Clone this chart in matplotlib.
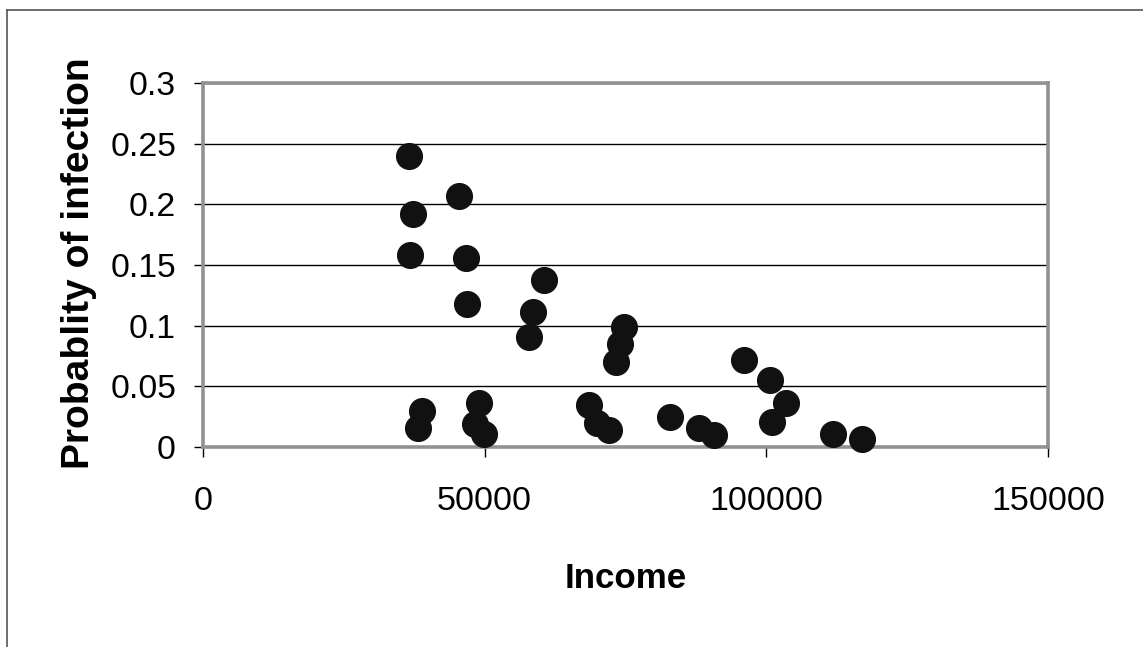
import matplotlib
matplotlib.use("Agg")
import matplotlib.pyplot as plt
from matplotlib.lines import Line2D
from matplotlib import font_manager as fm

plt.rcParams['font.family'] = ['Liberation Sans', 'DejaVu Sans']

# Household income and estimated probability of infection
income = [36600, 37300, 36700, 45400, 46700, 46800, 60600, 58600, 57900,
          74800, 74000, 73400, 96100, 100700, 103500, 101000, 38800, 38100,
          49000, 48300, 49800, 68500, 69900, 72000, 82900, 88100, 90700,
          111900, 116900]
prob_infection = [0.240, 0.192, 0.158, 0.207, 0.156, 0.118, 0.138, 0.111, 0.091,
                  0.099, 0.085, 0.070, 0.072, 0.055, 0.036, 0.021, 0.030, 0.016,
                  0.036, 0.019, 0.011, 0.035, 0.020, 0.014, 0.025, 0.016, 0.010,
                  0.011, 0.007]

x_ticks = [0, 50000, 100000, 150000]
y_ticks = [0, 0.05, 0.1, 0.15, 0.2, 0.25, 0.3]
y_tick_labels = ['0', '0.05', '0.1', '0.15', '0.2', '0.25', '0.3']


def font_available(name):
    try:
        fm.findfont(fm.FontProperties(family=name), fallback_to_default=False)
        return True
    except Exception:
        return False


narrow = 'Liberation Sans Narrow' if font_available('Liberation Sans Narrow') else 'Liberation Sans'

W, H = 1143, 647
DPI = 100
PX = 72 / DPI  # points per pixel

fig = plt.figure(figsize=(W / DPI, H / DPI), dpi=DPI)
fig.patch.set_facecolor('white')
renderer = fig.canvas.get_renderer()


def fit_size(txt, target_px, along='width'):
    """Scale a text's font size so its extent reaches target_px."""
    for _ in range(3):
        bb = txt.get_window_extent(renderer)
        cur = bb.width if along == 'width' else bb.height
        txt.set_fontsize(txt.get_fontsize() * target_px / cur)
    return txt.get_fontsize()


ax = fig.add_axes([203 / W, 1 - 447 / H, (1048 - 203) / W, (447 - 83) / H])
ax.set_xlim(0, 150000)
ax.set_ylim(0, 0.3)

ax.yaxis.grid(True, color='black', linewidth=1.0)
ax.set_axisbelow(True)

for side in ['left', 'right', 'top', 'bottom']:
    ax.spines[side].set_color('#919191')
    ax.spines[side].set_linewidth(2.6)

# Tick label sizes
probe = fig.text(0, 0, '0.25', fontsize=24)
y_fs = fit_size(probe, 65)
probe.remove()
probe = fig.text(0, 0, '150000', fontsize=28, family=narrow)
x_fs = fit_size(probe, 114)
probe.remove()

tick_len_px = 9.5
ax.set_yticks(y_ticks)
ax.set_yticklabels(y_tick_labels, fontsize=y_fs)
ax.set_xticks(x_ticks)
ax.set_xticklabels([str(t) for t in x_ticks], fontsize=x_fs, family=narrow)

ax.tick_params(axis='y', direction='out', length=tick_len_px * PX, width=1,
               color='black', pad=(203 - tick_len_px - 176) * PX)
ax.tick_params(axis='x', direction='out', length=tick_len_px * PX, width=1,
               color='black', pad=(486 - 447 - tick_len_px) * PX)

ax.plot(income, prob_infection, linestyle='none', marker='o', markersize=18.5,
        markerfacecolor='#111111', markeredgecolor='#111111', clip_on=False,
        zorder=3)

# Axis titles
ylab = fig.text(79 / W, 1 - 263.5 / H, 'Probablity of infection', rotation=90,
                ha='center', va='center', fontweight='bold', family=narrow,
                fontsize=28)
fit_size(ylab, 413, along='height')

xlab = fig.text(626 / W, 1 - 578 / H, 'Income', ha='center', va='center',
                fontweight='bold', family=narrow, fontsize=28)
fit_size(xlab, 122)

# Outer border of the chart area
fig.add_artist(Line2D([7 / W, 7 / W], [0, 1 - 10 / H], transform=fig.transFigure,
                      color='#555555', linewidth=1.2))
fig.add_artist(Line2D([7 / W, 1], [1 - 10 / H, 1 - 10 / H], transform=fig.transFigure,
                      color='#555555', linewidth=1.2))

fig.savefig('out.png', dpi=DPI, facecolor='white')
